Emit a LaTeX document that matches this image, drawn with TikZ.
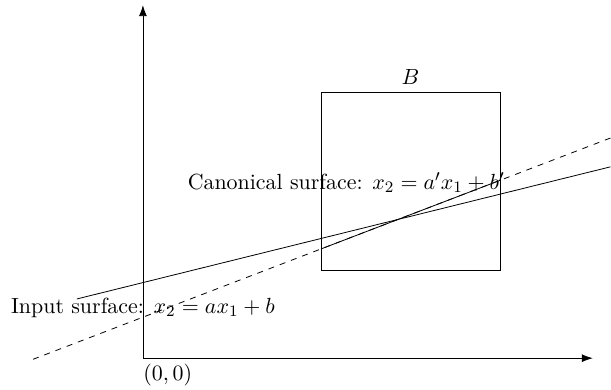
\documentclass[tikz,border=0pt,11pt]{standalone}
\usepackage{amsmath}
\usetikzlibrary{positioning, arrows.meta}
\begin{document}
\begin{tikzpicture}
    % Stili per assi e rette
    \tikzset{
        asse/.style={-{Latex[length=5.5pt, width=4pt]}},
        scatola/.style={draw, minimum width=3.14cm, minimum height=3.11cm, inner sep=0pt}
    }

    % Cornice fissa dell'immagine
    \useasboundingbox (-2.51,-0.545) rectangle (8.22,6.29);

    % --- Assi ---
    \coordinate (O) at (0,0);
    \coordinate (xfin) at (7.9,0);
    \coordinate (yfin) at (0,6.2);
    \draw[asse] (O) -- (xfin);
    \draw[asse] (O) -- (yfin);
    \node[anchor=north west, inner sep=0pt] (orig) at (0,-0.09) {$(0,0)$};

    % --- Regione B ---
    \node[scatola, label={above:$B$}] (box) at (4.70,3.105) {};

    % --- Superficie di ingresso (continua) ---
    \coordinate (in1) at (-1.16,1.04);
    \coordinate (in2) at (8.21,3.36);
    \draw (in1) -- (in2);
    \node (inlab) at (0,0.88) {Input surface: $x_2 = ax_1 + b$};

    % --- Superficie canonica (tratteggiata, piena dentro B) ---
    \coordinate (can1) at (-1.93,-0.02);
    \coordinate (can2) at (8.22,3.87);
    \draw[dashed] (can1) -- (can2);
    \begin{scope}
        \clip (box.south west) rectangle (box.north east);
        \draw (can1) -- (can2);
    \end{scope}
    \node (canlab) at (3.57,3.08) {Canonical surface: $x_2 = a'x_1 + b'$};
\end{tikzpicture}
\end{document}
